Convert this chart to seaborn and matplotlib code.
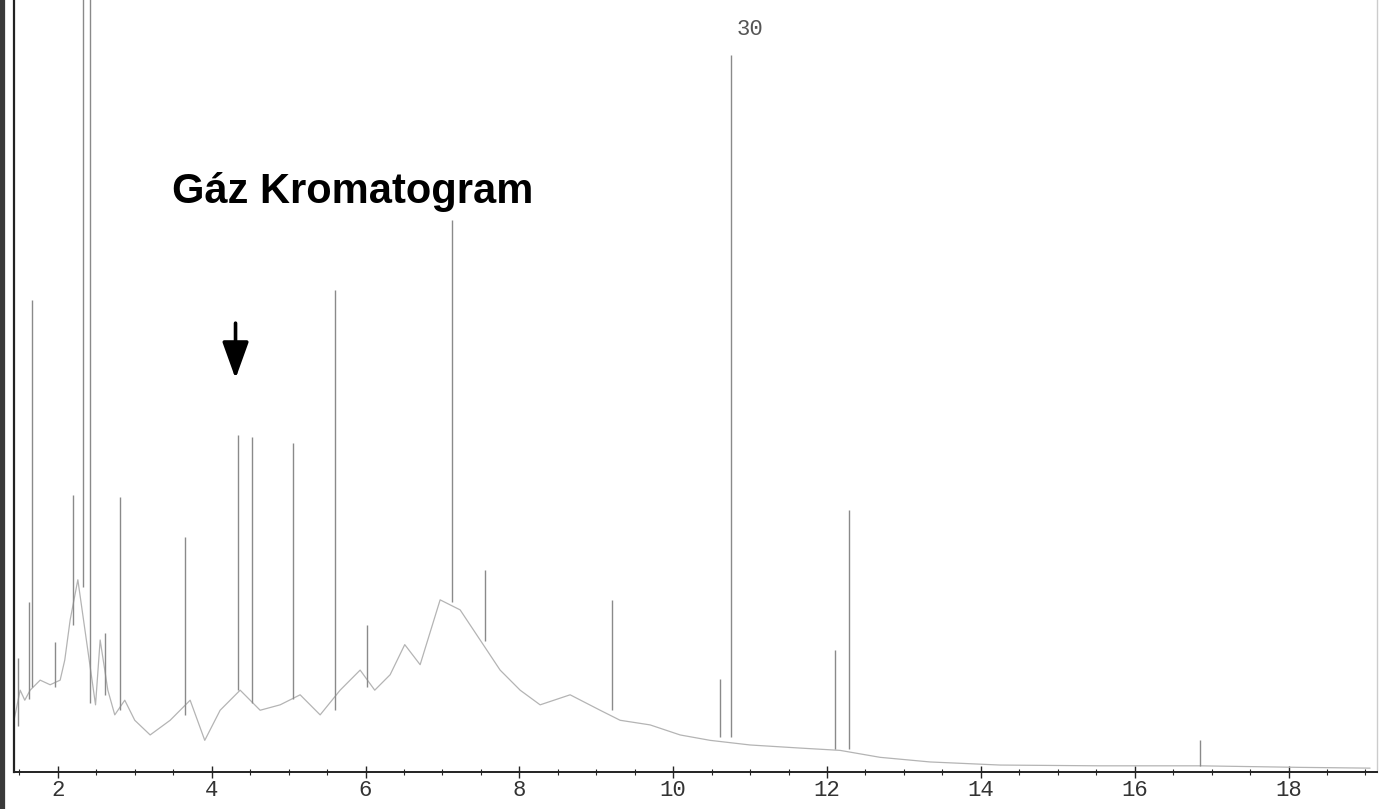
import matplotlib
matplotlib.use("Agg")
import matplotlib.pyplot as plt
import seaborn as sns
import pandas as pd
from matplotlib.lines import Line2D
from matplotlib.ticker import MultipleLocator

# ---- data ----
baseline_time = [1.43, 1.51, 1.57, 1.64, 1.77, 1.90, 2.03, 2.09, 2.16, 2.26, 2.49, 2.55,
                 2.65, 2.74, 2.87, 3.00, 3.20, 3.46, 3.72, 3.91, 4.11, 4.37, 4.63, 4.89,
                 5.15, 5.41, 5.67, 5.93, 6.12, 6.32, 6.51, 6.71, 6.97, 7.23, 7.49, 7.75,
                 8.01, 8.27, 8.66, 9.05, 9.31, 9.70, 10.09, 10.48, 11.00, 11.65, 12.17,
                 12.69, 13.34, 14.25, 15.55, 16.85, 18.15, 19.06]
baseline_signal = [6.7, 10.6, 9.3, 10.6, 11.9, 11.3, 11.9, 14.5, 19.7, 24.9, 8.7, 17.1,
                   10.6, 7.4, 9.3, 6.7, 4.8, 6.7, 9.3, 4.1, 8.0, 10.6, 8.0, 8.7,
                   10.0, 7.4, 10.6, 13.2, 10.6, 12.6, 16.5, 13.9, 22.3, 21.0, 17.1, 13.2,
                   10.6, 8.7, 10.0, 8.0, 6.7, 6.1, 4.8, 4.1, 3.5, 3.1, 2.8,
                   1.9, 1.3, 0.9, 0.8, 0.8, 0.6, 0.5]

peak_time = [1.48, 1.62, 1.66, 1.96, 2.20, 2.33, 2.42, 2.61, 2.81, 3.65, 4.34, 4.52,
             5.06, 5.60, 6.02, 7.12, 7.55, 9.20, 10.61, 10.75, 12.10, 12.29, 16.85]
peak_base = [6.0, 9.5, 11.0, 11.0, 19.0, 24.0, 9.0, 10.0, 8.0, 7.4, 10.6, 9.0,
             9.5, 8.0, 11.0, 22.0, 17.0, 8.0, 4.5, 4.5, 3.0, 3.0, 0.8]
peak_height = [14.8, 22.0, 61.1, 16.8, 35.9, 140.0, 140.0, 18.0, 35.6, 30.4, 43.7, 43.4,
               42.6, 62.4, 19.0, 71.5, 26.2, 22.3, 12.0, 92.9, 15.8, 33.9, 4.1]

tick_values = [2, 4, 6, 8, 10, 12, 14, 16, 18]
title_text = "Gáz Kromatogram"
peak_label = "30"
peak_label_time = 10.83
arrow_time = 4.31

# ---- style ----
sns.set_style("ticks")
plt.rcParams["font.family"] = ["Liberation Mono", "DejaVu Sans"]

fig = plt.figure(figsize=(13.82, 8.09), dpi=100)
ax = fig.add_axes([14 / 1382, 37 / 809, (1377 - 14) / 1382, 772 / 809])

trace = pd.DataFrame({"time": baseline_time, "signal": baseline_signal})
sns.lineplot(data=trace, x="time", y="signal", ax=ax, color="#b4b4b4", lw=0.9,
             estimator=None, sort=False)

ax.vlines(peak_time, peak_base, peak_height, colors="#8a8a8a", lw=1.0)

ax.set_xlim(1.43, 19.15)
ax.set_ylim(0, 100)
ax.set_xlabel("")
ax.set_ylabel("")
ax.set_xticks(tick_values)
ax.set_xticklabels([str(v) for v in tick_values])
ax.xaxis.set_minor_locator(MultipleLocator(0.5))
ax.set_yticks([])
ax.tick_params(axis="x", which="major", direction="inout", length=8, width=1,
               labelsize=16, labelcolor="#333333", pad=2)
ax.tick_params(axis="x", which="minor", direction="inout", length=5, width=0.8)

ax.spines["top"].set_visible(False)
ax.spines["right"].set_color("#cccccc")
ax.spines["right"].set_linewidth(1.0)
ax.spines["left"].set_color("#222222")
ax.spines["left"].set_linewidth(1.6)
ax.spines["bottom"].set_color("#222222")
ax.spines["bottom"].set_linewidth(1.4)

ax.text(peak_label_time, 96.2, peak_label, fontsize=16, color="#555555",
        ha="left", va="center", family=["Liberation Mono", "DejaVu Sans"])
ax.text(3.48, 73.7, title_text, fontsize=30, fontweight="bold", color="black",
        ha="left", va="baseline", family=["Liberation Sans", "DejaVu Sans"])
ax.annotate("", xy=(arrow_time, 50.6), xytext=(arrow_time, 58.5),
            arrowprops=dict(arrowstyle="-|>,head_length=0.75,head_width=0.27",
                            lw=2.6, color="black", mutation_scale=30))

# scanned dark left border
fig.add_artist(Line2D([0.0018, 0.0018], [0, 1], transform=fig.transFigure,
                      color="#3a3a3a", lw=4.5))

fig.savefig("out.png", dpi=100)
